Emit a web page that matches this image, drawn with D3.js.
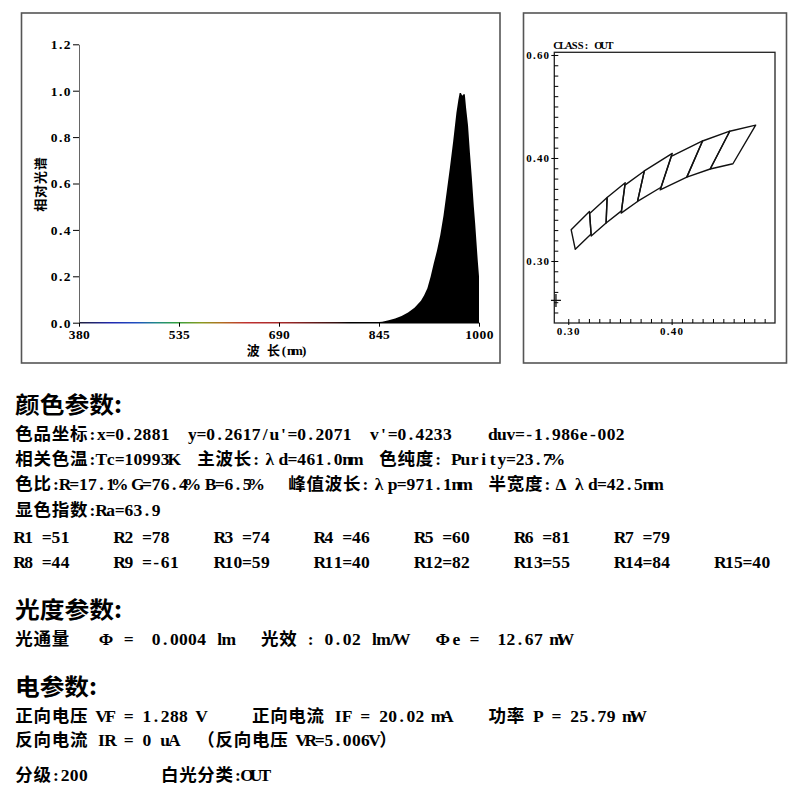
<!DOCTYPE html>
<html><head><meta charset="utf-8">
<script src="https://cdn.jsdelivr.net/npm/d3@7/dist/d3.min.js"></script>
<style>
html,body{margin:0;padding:0;background:#fff;}
svg{display:block;}
.tick text{font-family:"Liberation Serif","DejaVu Serif",serif;font-weight:bold;fill:#000;}
.body{font-family:"Liberation Serif","Noto Sans CJK SC",serif;font-weight:bold;font-size:17.5px;fill:#000;}
.head{font-family:"Noto Sans CJK SC",sans-serif;font-weight:bold;font-size:23px;fill:#000;}
.small{font-family:"Liberation Serif","Noto Sans CJK SC",serif;font-weight:bold;fill:#000;}
</style></head><body>
<svg id="c" width="800" height="800"></svg>
<script>
// ---------------- data ----------------
const wavelengths = [380, 427, 430, 690, 720, 745, 800, 840, 850, 860, 870, 880, 890, 900, 910, 915, 920, 925, 930, 935, 940, 945, 950, 955, 960, 965, 968, 970, 972, 974, 976, 978, 980, 983, 986, 989, 992, 994, 996, 998, 1000];
const intensity   = [0,   0.002, 0, 0.002, 0.002, 0.002, 0.002, 0.002, 0.004, 0.011, 0.018, 0.029, 0.044, 0.064, 0.095, 0.118, 0.148, 0.198, 0.257, 0.312, 0.378, 0.462, 0.565, 0.670, 0.782, 0.905, 0.960, 0.990, 0.990, 0.978, 0.985, 0.985, 0.925, 0.850, 0.730, 0.620, 0.500, 0.430, 0.350, 0.270, 0.200];

const specXTicks = [380, 535, 690, 845, 1000];
const specYTicks = [0, 0.2, 0.4, 0.6, 0.8, 1.0, 1.2];
const specXTitle = "波 长(nm)";
const specYTitle = "相对光谱";

// ANSI C78.377 chromaticity quadrangles (TL, BL, BR, TR)
const binNames = ["6500K", "5700K", "5000K", "4500K", "4000K", "3500K", "3000K", "2700K"];
const binX = [
  [0.3028, 0.3068, 0.3221, 0.3205],
  [0.3207, 0.3222, 0.3366, 0.3376],
  [0.3376, 0.3366, 0.3515, 0.3551],
  [0.3548, 0.3512, 0.3670, 0.3736],
  [0.3736, 0.3670, 0.3898, 0.4006],
  [0.3996, 0.3889, 0.4147, 0.4299],
  [0.4299, 0.4147, 0.4373, 0.4562],
  [0.4562, 0.4373, 0.4593, 0.4813]
];
const binY = [
  [0.3304, 0.3113, 0.3261, 0.3481],
  [0.3462, 0.3243, 0.3369, 0.3616],
  [0.3616, 0.3369, 0.3487, 0.3760],
  [0.3736, 0.3465, 0.3578, 0.3874],
  [0.3874, 0.3578, 0.3716, 0.4044],
  [0.4015, 0.3690, 0.3814, 0.4165],
  [0.4165, 0.3814, 0.3893, 0.4260],
  [0.4260, 0.3893, 0.3944, 0.4319]
];
const measuredX = 0.2881, measuredY = 0.2617;
const cieXLabelValues = [0.30, 0.40];
const cieXLabels = ["0.30", "0.40"];
const cieYLabelValues = [0.30, 0.40, 0.50];
const cieYLabels = ["0.30", "0.40", "0.60"];
const cieTitle = "CLASS: OUT";

const headings = ["颜色参数:", "光度参数:", "电参数:"];
const bodyLines = [
  "色品坐标:x=0.2881  y=0.2617/u'=0.2071  v'=0.4233    duv=-1.986e-002",
  "相关色温:Tc=10993K  主波长:λd=461.0nm  色纯度: Purity=23.7%",
  "色比:R=17.1% G=76.4% B=6.5%   峰值波长:λp=971.1nm  半宽度:Δλd=42.5nm",
  "显色指数:Ra=63.9",
  "R1 =51     R2 =78     R3 =74     R4 =46     R5 =60     R6 =81     R7 =79",
  "R8 =44     R9 =-61    R10=59     R11=40     R12=82     R13=55     R14=84     R15=40",
  "光通量   Φ =  0.0004 lm   光效 : 0.02 lm/W   Φe =  12.67 mW",
  "正向电压 VF = 1.288 V     正向电流 IF = 20.02 mA    功率 P = 25.79 mW",
  "反向电流 IR = 0 uA  （反向电压 VR=5.006V）",
  "分级:200        白光分类:OUT"
];

// ---------------- layout ----------------
const svg = d3.select("#c");
const headY = [403, 608, 685];
const headLen = [107, 107, 82];
const bodyY = [434, 459, 484, 510, 537, 562, 639, 716, 740, 775];
const U = 9.1, X0 = 15;

// frames
svg.append("rect").attr("x", 21.5).attr("y", 13).attr("width", 478.5).attr("height", 350)
  .attr("fill", "none").attr("stroke", "#555").attr("stroke-width", 1.6);
svg.append("rect").attr("x", 523.5).attr("y", 13).attr("width", 263).attr("height", 350)
  .attr("fill", "none").attr("stroke", "#555").attr("stroke-width", 1.6);

// ---------------- spectrum ----------------
const sx = d3.scaleLinear().domain([380, 1000]).range([79, 479]);
const sy = d3.scaleLinear().domain([0, 1.2]).range([322.7, 44.3]);
const defs = svg.append("defs");
const grad = defs.append("linearGradient").attr("id", "spec").attr("gradientUnits", "userSpaceOnUse")
  .attr("x1", sx(380)).attr("x2", sx(1000)).attr("y1", 0).attr("y2", 0);
const gradStops = [[380, "#20203a"], [430, "#2028b0"], [470, "#2050c0"], [500, "#208888"], [530, "#30a040"],
  [570, "#8a9a20"], [600, "#b07020"], [640, "#c03030"], [700, "#a02828"], [780, "#301010"], [800, "#000"], [1000, "#000"]];
gradStops.forEach(s => grad.append("stop").attr("offset", (s[0] - 380) / 620).attr("stop-color", s[1]));

const pts = wavelengths.map((w, i) => [w, intensity[i]]);
const area = d3.area().x(d => sx(d[0])).y0(sy(0)).y1(d => sy(d[1]));
svg.append("path").datum(pts).attr("d", area).attr("fill", "url(#spec)");
svg.append("line").attr("x1", sx(380)).attr("x2", sx(1000)).attr("y1", sy(0)).attr("y2", sy(0))
  .attr("stroke", "url(#spec)").attr("stroke-width", 1.4);

const yAx = svg.append("g").attr("transform", `translate(${sx(380)},0)`)
  .call(d3.axisLeft(sy).tickValues(specYTicks).tickFormat(d3.format(".1f")).tickSize(6).tickSizeOuter(0).tickPadding(1));
yAx.selectAll("text").style("font-size", "13.5px").style("letter-spacing", "1.5px");
yAx.select(".domain").attr("stroke", "#666");
const xAx = svg.append("g").attr("transform", `translate(0,${sy(0)})`)
  .call(d3.axisBottom(sx).tickValues(specXTicks).tickFormat(d3.format("d")).tickSize(4).tickSizeOuter(0).tickPadding(3));
xAx.selectAll("text").style("font-size", "13.5px").style("letter-spacing", "0.4px");
xAx.select(".domain").remove();

function isWide(c) { return /[\u2E80-\u9FFF\uFF00-\uFFEF\u3000-\u303F\u0370-\u03FF]/.test(c); }
function monoText(g, str, x0, yc, u, cls, size) {
  let col = 0; const xs = [];
  Array.from(str).forEach(c => { const w = isWide(c) ? 2 : 1; xs.push((x0 + (col + w / 2) * u).toFixed(2)); col += w; });
  const t = g.append("text").attr("class", cls).attr("xml:space", "preserve").style("white-space", "pre")
    .attr("x", xs.join(" ")).attr("y", yc).attr("text-anchor", "middle").attr("dominant-baseline", "central").text(str);
  if (size) t.style("font-size", size + "px");
  return col * u;
}
function monoWidth(str) { return Array.from(str).reduce((a, c) => a + (isWide(c) ? 2 : 1), 0); }
// axis titles
monoText(svg, specXTitle, 277 - monoWidth(specXTitle) * 6.8 / 2, 350, 6.8, "small", 13);
const ty = svg.append("g").attr("transform", "translate(40,184.5) rotate(-90)");
monoText(ty, specYTitle, -monoWidth(specYTitle) * 6.9 / 2, 0, 6.9, "small", 13);

// ---------------- chromaticity ----------------
const cx = d3.scaleLinear().domain([0.2865, 0.5]).range([554.3, 775]);
const cy = d3.scaleLinear().domain([0.2398, 0.5026]).range([323, 52.3]);
svg.append("rect").attr("x", cx(0.2865)).attr("y", cy(0.5026)).attr("width", cx(0.5) - cx(0.2865))
  .attr("height", cy(0.2398) - cy(0.5026)).attr("fill", "none").attr("stroke", "#222").attr("stroke-width", 1.3);

const minorY = d3.range(25, 51).map(v => v / 100);
const minorX = d3.range(30, 50).map(v => v / 100);
const gyMinor = svg.append("g").attr("transform", `translate(${cx(0.2865)},0)`)
  .call(d3.axisRight(cy).tickValues(minorY).tickFormat("").tickSize(4).tickSizeOuter(0));
gyMinor.select(".domain").remove();
const gyMajor = svg.append("g").attr("transform", `translate(${cx(0.2865)},0)`)
  .call(d3.axisLeft(cy).tickValues(cieYLabelValues).tickFormat((d, i) => cieYLabels[i]).tickSize(3).tickSizeOuter(0).tickPadding(1));
gyMajor.select(".domain").remove();
gyMajor.selectAll("text").style("font-size", "11px").style("letter-spacing", "1.2px");
const gxMinor = svg.append("g").attr("transform", `translate(0,${cy(0.2398)})`)
  .call(d3.axisTop(cx).tickValues(minorX).tickFormat("").tickSize(4).tickSizeOuter(0));
gxMinor.select(".domain").remove();
const gxMajor = svg.append("g").attr("transform", `translate(0,${cy(0.2398)})`)
  .call(d3.axisBottom(cx).tickValues(cieXLabelValues).tickFormat((d, i) => cieXLabels[i]).tickSize(2).tickSizeOuter(0).tickPadding(2.6));
gxMajor.select(".domain").remove();
gxMajor.selectAll("text").style("font-size", "11px").style("letter-spacing", "1.2px");

monoText(svg, cieTitle, 554, 45.5, 5.9, "small", 10.5);

const quadLine = d3.line().x(d => cx(d[0])).y(d => cy(d[1]));
svg.append("g").selectAll("path").data(binNames).join("path")
  .attr("d", (n, i) => quadLine(binX[i].map((x, j) => [x, binY[i][j]])) + "Z")
  .attr("fill", "none").attr("stroke", "#111").attr("stroke-width", 1.4).attr("stroke-linejoin", "round");

const mx = cx(measuredX), my = cy(measuredY);
svg.append("path").attr("d", `M${mx - 5},${my}H${mx + 5}M${mx},${my - 6.5}V${my + 6.5}`)
  .attr("stroke", "#111").attr("stroke-width", 1.3);

// ---------------- text report ----------------
headings.forEach((h, i) => {
  svg.append("text").attr("class", "head").attr("x", X0).attr("y", headY[i])
    .attr("dominant-baseline", "central").attr("textLength", headLen[i]).attr("lengthAdjust", "spacingAndGlyphs").text(h);
});
bodyLines.forEach((l, i) => monoText(svg, l, X0, bodyY[i], U, "body"));
</script>
</body></html>
